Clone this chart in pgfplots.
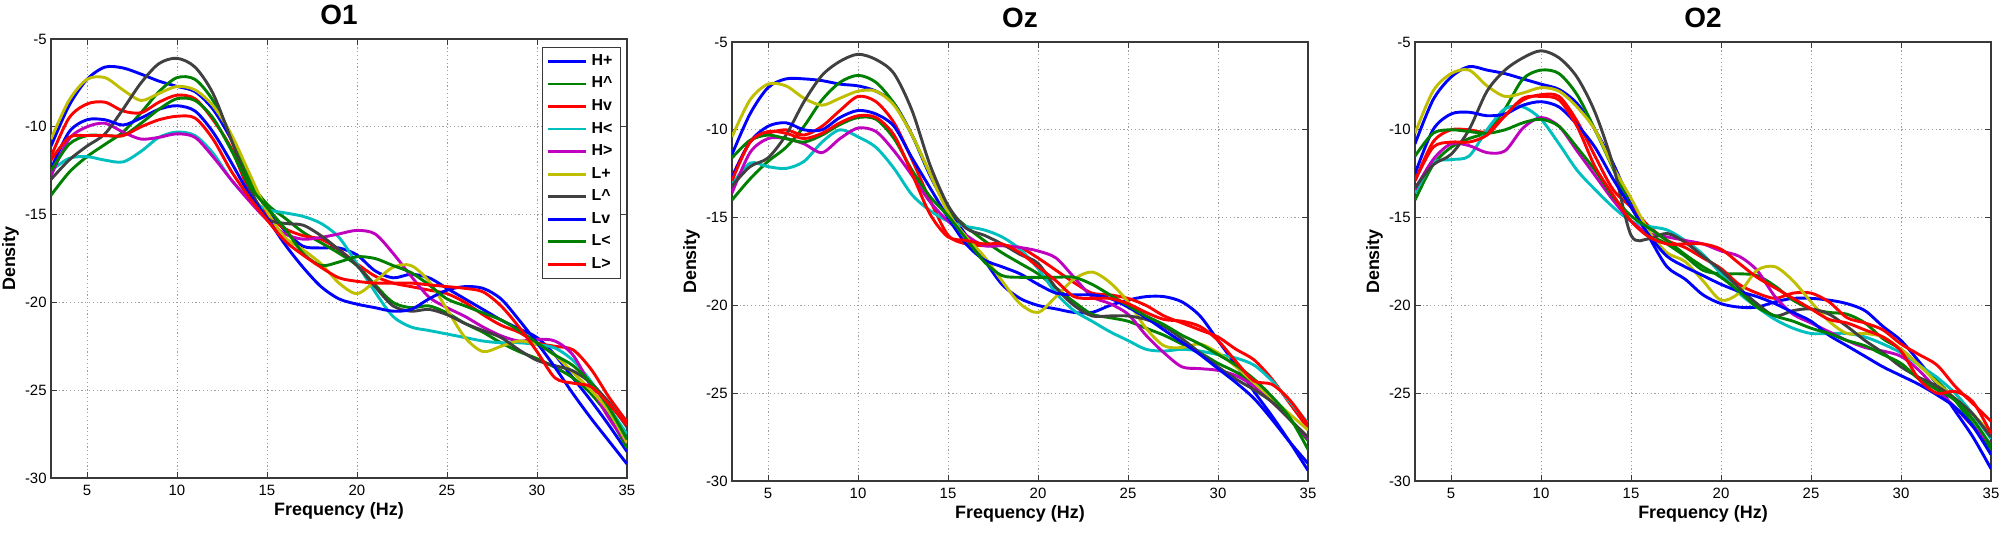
\documentclass[border=0pt]{standalone}
\usepackage{fontspec}
\setmainfont{Liberation Sans}
\usepackage{pgfplots}
\usepackage{pgfplotstable}
\pgfplotsset{compat=1.18}
\definecolor{mblue}{rgb}{0,0,1}
\definecolor{mgreen}{rgb}{0,0.5,0}
\definecolor{mred}{rgb}{1,0,0}
\definecolor{mcyan}{rgb}{0,0.75,0.75}
\definecolor{mmag}{rgb}{0.75,0,0.75}
\definecolor{myel}{rgb}{0.75,0.75,0}
\definecolor{mgray}{rgb}{0.25,0.25,0.25}

% columns: Hp=H+, Hu=H^, Hv=Hv, Hl=H<, Hr=H>, Lp=L+, Lu=L^, Lv=Lv, Ll=L<, Lr=L>
\pgfplotstableread{
f  Hp     Hu     Hv     Hl     Hr     Lp     Lu     Lv     Ll     Lr
3  -11.1  -13.9  -11.7  -12.5  -12.8  -10.7  -13.0  -12.4  -12.5  -11.9
4  -8.8   -12.6  -9.5   -11.8  -10.7  -8.5   -11.9  -10.3  -11.0  -10.6
5  -7.3   -11.7  -8.7   -11.7  -10.0  -7.3   -11.1  -9.6   -10.5  -10.5
6  -6.6   -11.0  -8.6   -11.9  -9.8   -7.2   -10.4  -9.6   -10.5  -10.5
7  -6.65  -10.3  -9.1   -12.0  -10.3  -7.9   -9.0   -9.9   -10.5  -10.5
8  -7.0   -9.2   -9.2   -11.4  -10.7  -8.5   -7.5   -9.5   -9.8   -10.0
9  -7.4   -8.0   -8.6   -10.6  -10.6  -8.1   -6.4   -9.0   -9.0   -9.6
10 -7.7   -7.2   -8.2   -10.3  -10.4  -7.7   -6.1   -8.8   -8.4   -9.4
11 -8.0   -7.3   -8.4   -10.5  -10.6  -7.9   -6.6   -9.1   -8.5   -9.5
12 -9.0   -8.5   -9.6   -11.5  -11.7  -8.8   -8.1   -10.3  -9.5   -10.7
13 -10.7  -10.5  -11.2  -13.0  -13.0  -10.4  -10.7  -12.0  -11.3  -12.5
14 -12.9  -13.0  -13.6  -14.1  -14.2  -12.6  -13.4  -13.8  -13.3  -14.0
15 -14.7  -14.4  -15.0  -14.7  -15.3  -14.8  -15.2  -15.2  -14.6  -15.3
16 -15.9  -15.2  -15.8  -14.9  -16.1  -16.3  -15.5  -16.7  -15.8  -16.5
17 -16.8  -16.0  -16.2  -15.1  -16.4  -17.0  -15.6  -18.0  -17.2  -17.3
18 -16.9  -16.6  -16.4  -15.5  -16.3  -17.8  -16.2  -19.1  -17.9  -18.0
19 -16.9  -17.2  -17.0  -16.3  -16.1  -18.9  -17.0  -19.8  -17.7  -18.6
20 -17.3  -17.9  -17.8  -17.8  -15.9  -19.5  -17.9  -20.1  -17.4  -18.8
21 -18.2  -19.0  -18.5  -19.4  -16.1  -18.8  -19.1  -20.3  -17.5  -18.9
22 -18.6  -20.0  -18.9  -20.8  -17.2  -18.0  -20.2  -20.5  -17.9  -18.9
23 -18.4  -20.3  -19.1  -21.4  -18.5  -17.9  -20.5  -20.4  -18.3  -18.9
24 -18.6  -20.2  -19.3  -21.6  -19.7  -18.8  -20.4  -19.8  -19.0  -19.0
25 -19.2  -20.6  -19.5  -21.8  -20.3  -20.4  -20.7  -19.3  -19.8  -19.1
26 -19.8  -21.2  -20.0  -22.0  -20.8  -22.0  -21.2  -19.1  -20.2  -19.2
27 -20.4  -21.7  -20.7  -22.2  -21.4  -22.8  -21.6  -19.2  -20.6  -19.4
28 -21.0  -22.3  -21.3  -22.3  -21.9  -22.5  -22.0  -19.8  -21.0  -20.2
29 -21.5  -22.8  -21.7  -22.3  -22.2  -22.2  -22.7  -21.0  -21.6  -21.4
30 -22.0  -23.2  -22.3  -22.4  -22.1  -22.4  -23.3  -22.3  -22.3  -22.8
31 -23.0  -23.7  -22.5  -22.6  -22.2  -23.0  -23.6  -23.7  -23.0  -24.3
32 -24.3  -24.3  -22.7  -23.3  -23.0  -24.0  -23.9  -25.2  -23.6  -24.6
33 -25.6  -25.2  -23.8  -24.5  -24.8  -25.0  -24.6  -26.6  -24.6  -24.8
34 -27.0  -26.5  -25.4  -26.0  -26.6  -26.2  -25.7  -27.9  -26.0  -25.8
35 -28.5  -28.3  -26.8  -27.5  -28.0  -28.0  -27.1  -29.2  -27.8  -27.0
}\tabOone

\pgfplotstableread{
f  Hp     Hu     Hv     Hl     Hr     Lp     Lu     Lv     Ll     Lr
3  -11.4  -14.0  -12.7  -13.1  -13.6  -10.4  -13.2  -12.7  -11.6  -12.9
4  -9.1   -12.8  -10.7  -11.9  -11.3  -8.3   -12.1  -10.7  -10.6  -10.7
5  -7.6   -11.8  -10.2  -12.1  -10.5  -7.4   -11.6  -9.8   -10.3  -10.1
6  -7.1   -11.0  -10.0  -12.2  -10.5  -7.5   -10.3  -9.6   -10.5  -10.2
7  -7.1   -9.8   -10.3  -11.8  -10.8  -8.2   -8.4   -10.0  -10.7  -10.5
8  -7.2   -8.3   -9.8   -10.7  -11.3  -8.6   -6.9   -10.0  -10.3  -10.2
9  -7.4   -7.3   -8.9   -10.0  -10.5  -8.2   -6.1   -9.3   -9.7   -9.6
10 -7.5   -6.9   -8.1   -10.4  -9.9   -7.8   -5.7   -8.9   -9.3   -9.2
11 -7.8   -7.3   -8.4   -11.0  -10.1  -7.8   -6.0   -9.1   -9.4   -9.3
12 -8.5   -8.5   -9.6   -12.2  -11.2  -8.6   -6.8   -9.8   -10.5  -10.3
13 -10.3  -10.3  -11.7  -13.7  -12.6  -10.3  -8.9   -11.6  -12.3  -12.5
14 -12.6  -12.5  -14.0  -14.6  -14.1  -12.5  -12.0  -13.3  -13.8  -14.8
15 -14.5  -14.5  -16.0  -15.2  -15.2  -14.7  -14.3  -15.0  -14.9  -16.1
16 -16.0  -15.5  -16.5  -15.5  -16.0  -16.1  -15.6  -16.5  -16.2  -16.3
17 -17.4  -16.3  -16.6  -15.7  -16.6  -17.2  -16.0  -17.4  -17.5  -16.5
18 -18.8  -17.0  -16.6  -16.1  -16.6  -18.6  -16.5  -17.8  -18.3  -16.5
19 -19.6  -17.6  -16.7  -16.8  -16.7  -19.9  -17.1  -18.2  -18.4  -17.0
20 -20.0  -18.2  -17.3  -17.9  -16.9  -20.4  -17.6  -18.8  -18.4  -17.8
21 -20.2  -19.0  -18.0  -19.3  -17.3  -19.5  -19.0  -19.3  -18.4  -18.6
22 -20.4  -19.8  -18.7  -20.3  -18.4  -18.5  -20.0  -19.4  -18.4  -19.5
23 -20.4  -20.5  -19.3  -20.9  -19.5  -18.1  -20.6  -19.4  -18.8  -19.6
24 -20.0  -20.7  -19.4  -21.5  -19.9  -18.7  -20.6  -19.6  -19.4  -19.6
25 -19.7  -20.9  -19.6  -22.0  -20.5  -19.8  -20.6  -20.1  -20.0  -19.9
26 -19.5  -21.3  -20.0  -22.5  -21.7  -21.3  -20.8  -20.7  -20.6  -20.4
27 -19.5  -21.7  -20.6  -22.6  -22.7  -22.3  -21.2  -21.4  -21.1  -20.8
28 -19.8  -22.2  -21.0  -22.5  -23.5  -22.4  -21.9  -22.1  -21.7  -20.9
29 -20.6  -22.7  -21.4  -22.6  -23.6  -22.2  -22.7  -22.8  -22.2  -21.2
30 -22.0  -23.3  -21.8  -22.8  -23.7  -22.7  -23.5  -23.6  -22.8  -22.0
31 -23.4  -23.8  -22.5  -23.0  -24.0  -23.5  -24.2  -24.4  -23.4  -23.2
32 -24.9  -24.5  -23.1  -23.4  -24.6  -24.4  -24.8  -25.3  -24.2  -24.3
33 -26.3  -25.4  -24.2  -24.3  -25.5  -25.3  -25.5  -26.5  -25.2  -24.5
34 -27.8  -26.5  -25.6  -25.5  -26.5  -26.2  -26.5  -27.8  -26.4  -25.4
35 -29.4  -27.7  -27.0  -26.7  -27.6  -27.1  -27.5  -29.0  -28.2  -26.8
}\tabOz

\pgfplotstableread{
f  Hp     Hu     Hv     Hl     Hr     Lp     Lu     Lv     Ll     Lr
3  -10.8  -14.0  -12.9  -13.6  -13.4  -10.2  -13.3  -12.5  -11.5  -12.9
4  -8.3   -12.0  -10.7  -11.9  -11.7  -7.8   -12.0  -10.0  -10.2  -11.0
5  -7.0   -11.0  -10.0  -11.7  -10.8  -6.8   -11.4  -9.1   -10.0  -10.7
6  -6.4   -10.5  -10.0  -11.5  -10.9  -6.6   -10.0  -9.0   -10.1  -10.7
7  -6.6   -10.1  -10.1  -10.0  -11.3  -7.5   -7.8   -9.2   -10.2  -10.3
8  -6.8   -8.8   -9.2   -8.8   -11.2  -8.1   -6.6   -9.1   -10.0  -9.2
9  -7.1   -7.1   -8.3   -8.7   -9.9   -7.9   -5.9   -8.6   -9.6   -8.2
10 -7.4   -6.6   -8.0   -9.4   -9.3   -7.6   -5.5   -8.4   -9.4   -8.1
11 -7.7   -6.8   -8.1   -10.8  -9.8   -7.8   -5.9   -8.7   -9.8   -8.3
12 -8.5   -8.0   -9.5   -12.3  -11.2  -8.7   -7.0   -9.7   -11.0  -9.8
13 -10.0  -10.0  -11.5  -13.4  -12.6  -10.0  -9.0   -11.0  -12.3  -12.1
14 -11.9  -12.2  -13.4  -14.4  -14.0  -12.1  -12.0  -12.8  -13.8  -13.7
15 -14.2  -14.4  -14.4  -15.2  -15.2  -13.9  -16.0  -14.4  -14.9  -15.2
16 -16.1  -15.9  -15.5  -15.5  -15.9  -15.8  -16.2  -16.0  -15.6  -16.1
17 -17.8  -16.5  -16.3  -15.7  -16.1  -17.0  -15.9  -17.2  -16.3  -16.5
18 -18.5  -17.2  -16.7  -16.3  -16.3  -17.5  -16.4  -17.8  -17.1  -16.5
19 -19.4  -18.0  -17.3  -17.1  -16.5  -18.6  -17.2  -18.3  -17.8  -16.5
20 -19.9  -18.2  -17.9  -18.2  -16.9  -19.7  -18.0  -18.8  -18.4  -16.8
21 -20.1  -18.2  -18.8  -19.3  -17.2  -19.3  -19.0  -19.2  -19.2  -17.6
22 -20.1  -18.3  -19.3  -20.1  -18.0  -18.0  -19.9  -19.5  -20.1  -18.4
23 -19.8  -18.9  -19.6  -20.8  -19.5  -17.8  -20.6  -19.9  -20.6  -19.0
24 -19.6  -19.7  -19.3  -21.3  -20.5  -18.6  -20.3  -20.4  -20.9  -19.6
25 -19.6  -20.2  -19.3  -21.6  -21.0  -19.8  -20.2  -20.9  -21.3  -20.2
26 -19.7  -20.4  -19.8  -21.6  -21.5  -20.9  -20.5  -21.7  -21.6  -20.8
27 -19.9  -20.5  -20.7  -21.6  -22.0  -21.6  -21.2  -22.3  -22.0  -21.0
28 -20.3  -21.0  -21.0  -21.8  -22.4  -21.6  -22.0  -22.9  -22.3  -21.4
29 -21.2  -21.9  -21.4  -22.2  -22.6  -21.8  -22.7  -23.5  -22.8  -21.8
30 -22.0  -22.5  -22.2  -22.7  -22.9  -22.5  -23.5  -24.0  -23.3  -22.6
31 -23.2  -23.4  -22.8  -23.4  -23.7  -23.4  -24.1  -24.5  -24.2  -24.2
32 -24.5  -24.3  -23.4  -24.1  -24.8  -24.4  -24.6  -25.1  -24.8  -25.0
33 -26.0  -25.4  -24.6  -25.0  -25.8  -25.3  -25.3  -25.8  -25.4  -24.9
34 -27.5  -26.8  -25.6  -26.2  -26.9  -26.2  -26.2  -26.9  -26.5  -25.5
35 -29.3  -28.2  -26.6  -27.6  -27.9  -27.3  -27.5  -28.5  -28.0  -27.3
}\tabOtwo

\pgfplotsset{
  crv/.style={line width=1.45bp, smooth, tension=0.5, no marks},
  every axis title shift=0pt,
  panel/.style={
    scale only axis, width=288bp, height=219.5bp,
    xmin=3, xmax=35, ymin=-30, ymax=-5,
    xtick={5,10,15,20,25,30,35}, ytick={-30,-25,-20,-15,-10,-5},
    tick align=inside, tick pos=both, major tick length=3bp,
    tick style={gray!45!black, line width=0.5bp},
    axis line style={gray!45!black, line width=0.6bp},
    grid=major,
    grid style={gray!75, line width=0.5bp, dash pattern=on 0.6bp off 1.3bp},
    /pgf/number format/assume math mode=true,
    ticklabel style={font=\fontsize{7.5}{8}\selectfont},
    xticklabel style={inner sep=0pt, yshift=-3.5bp},
    yticklabel style={inner sep=0pt, xshift=-2bp},
    xlabel={Frequency (Hz)},
    ylabel={Density},
    label style={font=\bfseries\fontsize{9}{10}\selectfont},
    xlabel style={at={(axis description cs:0.5,-0.0845)}, anchor=base},
    ylabel style={at={(axis description cs:-0.0625,0.5)}, anchor=base},
    title style={at={(axis description cs:0.5,1.032)}, anchor=base,
                 font=\bfseries\fontsize{14}{16}\selectfont},
    anchor=north west,
  },
}

\newcommand{\allcurves}[1]{%
  \addplot[crv, mblue]  table[x=f,y=Hp]{#1};
  \addplot[crv, mgreen] table[x=f,y=Hu]{#1};
  \addplot[crv, mred]   table[x=f,y=Hv]{#1};
  \addplot[crv, mcyan]  table[x=f,y=Hl]{#1};
  \addplot[crv, mmag]   table[x=f,y=Hr]{#1};
  \addplot[crv, myel]   table[x=f,y=Lp]{#1};
  \addplot[crv, mgray]  table[x=f,y=Lu]{#1};
  \addplot[crv, mblue]  table[x=f,y=Lv]{#1};
  \addplot[crv, mgreen] table[x=f,y=Ll]{#1};
  \addplot[crv, mred]   table[x=f,y=Lr]{#1};
}

\begin{document}
\begin{tikzpicture}
\useasboundingbox (0bp,0bp) rectangle (1000bp,-269bp);

\begin{axis}[panel, at={(25.5bp,-19.5bp)}, title={O1},
  legend style={at={(axis description cs:0.9896,0.9818)}, anchor=north east,
    font=\bfseries\fontsize{8}{9}\selectfont, draw=gray!45!black, line width=0.5bp,
    inner xsep=2bp, inner ysep=1.5bp, row sep=0.3bp, fill=white,
    cells={anchor=west}},
  legend image code/.code={\draw[#1] (0bp,0bp) -- (19bp,0bp);},
  legend entries={H+, H\textasciicircum, Hv, H<, H>, L+, L\textasciicircum, Lv, L<, L>},
]
\allcurves{\tabOone}
\end{axis}

\begin{axis}[panel, at={(366bp,-21bp)}, title={Oz}]
\allcurves{\tabOz}
\end{axis}

\begin{axis}[panel, at={(707.5bp,-21bp)}, title={O2}]
\allcurves{\tabOtwo}
\end{axis}
\end{tikzpicture}
\end{document}
